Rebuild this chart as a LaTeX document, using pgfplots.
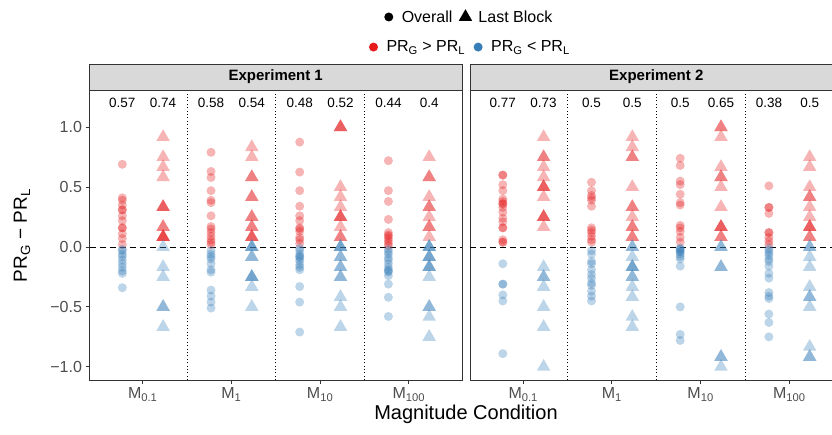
\documentclass[border=0pt]{standalone}
\usepackage{fontspec}
\setmainfont{Liberation Sans}
\usepackage{pgfplots}
\pgfplotsset{compat=1.18}
\usepackage{pgfplotstable}
\definecolor{setred}{HTML}{E41A1C}
\definecolor{setblue}{HTML}{377EB8}
\definecolor{stripbg}{HTML}{D9D9D9}
\definecolor{frame}{HTML}{333333}
\definecolor{ticktxt}{HTML}{4D4D4D}
\newcommand\fs[1]{\fontsize{#1}{#1}\selectfont}

% c = magnitude condition (1..4), v = PR_G - PR_L
% Experiment 1
\pgfplotstableread[row sep=\\]{c v\\
1 0.69\\ 1 0.41\\ 1 0.39\\ 1 0.35\\ 1 0.31\\ 1 0.31\\ 1 0.26\\ 1 0.22\\ 1 0.16\\ 1 0.16\\ 1 0.11\\ 1 0.07\\ 1 0.02\\
2 0.79\\ 2 0.63\\ 2 0.58\\ 2 0.47\\ 2 0.39\\ 2 0.37\\ 2 0.26\\ 2 0.17\\ 2 0.15\\ 2 0.12\\ 2 0.09\\ 2 0.06\\ 2 0.04\\ 2 0.02\\
3 0.875\\ 3 0.625\\ 3 0.47\\ 3 0.34\\ 3 0.26\\ 3 0.22\\ 3 0.16\\ 3 0.15\\ 3 0.13\\ 3 0.08\\ 3 0.06\\ 3 0.03\\
4 0.72\\ 4 0.47\\ 4 0.38\\ 4 0.23\\ 4 0.12\\ 4 0.10\\ 4 0.09\\ 4 0.07\\ 4 0.05\\ 4 0.03\\ 4 0.01\\
}\eAoR
\pgfplotstableread[row sep=\\]{c v\\
1 -0.02\\ 1 -0.03\\ 1 -0.06\\ 1 -0.08\\ 1 -0.11\\ 1 -0.14\\ 1 -0.17\\ 1 -0.20\\ 1 -0.22\\ 1 -0.34\\
2 -0.03\\ 2 -0.06\\ 2 -0.08\\ 2 -0.10\\ 2 -0.14\\ 2 -0.19\\ 2 -0.21\\ 2 -0.36\\ 2 -0.41\\ 2 -0.46\\ 2 -0.51\\
3 -0.01\\ 3 -0.03\\ 3 -0.06\\ 3 -0.08\\ 3 -0.08\\ 3 -0.10\\ 3 -0.12\\ 3 -0.15\\ 3 -0.17\\ 3 -0.19\\ 3 -0.33\\ 3 -0.46\\ 3 -0.71\\
4 -0.02\\ 4 -0.04\\ 4 -0.06\\ 4 -0.09\\ 4 -0.11\\ 4 -0.14\\ 4 -0.17\\ 4 -0.19\\ 4 -0.20\\ 4 -0.21\\ 4 -0.24\\ 4 -0.31\\ 4 -0.42\\ 4 -0.58\\
}\eAoB
\pgfplotstableread[row sep=\\]{c v\\
1 0.917\\ 1 0.75\\ 1 0.667\\ 1 0.583\\ 1 0.333\\ 1 0.333\\ 1 0.333\\ 1 0.167\\ 1 0.167\\ 1 0.083\\ 1 0.083\\ 1 0.083\\ 1 0.083\\
2 0.833\\ 2 0.75\\ 2 0.583\\ 2 0.583\\ 2 0.417\\ 2 0.417\\ 2 0.25\\ 2 0.25\\ 2 0.167\\ 2 0.167\\ 2 0.083\\ 2 0.083\\ 2 0.083\\
3 1\\ 3 1\\ 3 1\\ 3 0.5\\ 3 0.417\\ 3 0.333\\ 3 0.25\\ 3 0.25\\ 3 0.25\\ 3 0.167\\ 3 0.083\\ 3 0.083\\
4 0.75\\ 4 0.583\\ 4 0.583\\ 4 0.417\\ 4 0.333\\ 4 0.333\\ 4 0.25\\ 4 0.167\\ 4 0.167\\ 4 0.083\\
}\eAlR
\pgfplotstableread[row sep=\\]{c v\\
1 0\\ 1 -0.167\\ 1 -0.25\\ 1 -0.5\\ 1 -0.5\\ 1 -0.667\\
2 0\\ 2 0\\ 2 0\\ 2 -0.083\\ 2 -0.083\\ 2 -0.25\\ 2 -0.25\\ 2 -0.25\\ 2 -0.333\\ 2 -0.5\\
3 0\\ 3 0\\ 3 0\\ 3 -0.083\\ 3 -0.083\\ 3 -0.167\\ 3 -0.167\\ 3 -0.25\\ 3 -0.25\\ 3 -0.417\\ 3 -0.5\\ 3 -0.667\\
4 0\\ 4 0\\ 4 0\\ 4 -0.083\\ 4 -0.083\\ 4 -0.083\\ 4 -0.167\\ 4 -0.167\\ 4 -0.167\\ 4 -0.25\\ 4 -0.5\\ 4 -0.5\\ 4 -0.583\\ 4 -0.75\\
}\eAlB
% Experiment 2
\pgfplotstableread[row sep=\\]{c v\\
1 0.60\\ 1 0.60\\ 1 0.52\\ 1 0.47\\ 1 0.40\\ 1 0.38\\ 1 0.36\\ 1 0.36\\ 1 0.33\\ 1 0.29\\ 1 0.24\\ 1 0.21\\ 1 0.16\\ 1 0.16\\ 1 0.06\\ 1 0.04\\ 1 0.04\\
2 0.54\\ 2 0.47\\ 2 0.43\\ 2 0.41\\ 2 0.39\\ 2 0.34\\ 2 0.16\\ 2 0.14\\ 2 0.12\\ 2 0.09\\ 2 0.06\\ 2 0.04\\
3 0.74\\ 3 0.68\\ 3 0.55\\ 3 0.52\\ 3 0.44\\ 3 0.37\\ 3 0.35\\ 3 0.18\\ 3 0.16\\ 3 0.13\\ 3 0.08\\ 3 0.04\\
4 0.51\\ 4 0.33\\ 4 0.33\\ 4 0.28\\ 4 0.12\\ 4 0.12\\ 4 0.08\\ 4 0.05\\ 4 0.02\\
}\eBoR
\pgfplotstableread[row sep=\\]{c v\\
1 -0.14\\ 1 -0.31\\ 1 -0.31\\ 1 -0.40\\ 1 -0.45\\ 1 -0.89\\
2 -0.03\\ 2 -0.06\\ 2 -0.12\\ 2 -0.14\\ 2 -0.19\\ 2 -0.23\\ 2 -0.26\\ 2 -0.30\\ 2 -0.32\\ 2 -0.37\\ 2 -0.41\\ 2 -0.45\\
3 -0.01\\ 3 -0.02\\ 3 -0.02\\ 3 -0.04\\ 3 -0.04\\ 3 -0.06\\ 3 -0.08\\ 3 -0.10\\ 3 -0.16\\ 3 -0.50\\ 3 -0.73\\ 3 -0.78\\
4 -0.01\\ 4 -0.03\\ 4 -0.05\\ 4 -0.07\\ 4 -0.10\\ 4 -0.12\\ 4 -0.16\\ 4 -0.22\\ 4 -0.26\\ 4 -0.38\\ 4 -0.41\\ 4 -0.43\\ 4 -0.56\\ 4 -0.63\\ 4 -0.75\\
}\eBoB
\pgfplotstableread[row sep=\\]{c v\\
1 0.917\\ 1 0.75\\ 1 0.75\\ 1 0.667\\ 1 0.583\\ 1 0.5\\ 1 0.5\\ 1 0.5\\ 1 0.417\\ 1 0.25\\ 1 0.25\\ 1 0.25\\ 1 0.167\\
2 0.917\\ 2 0.833\\ 2 0.75\\ 2 0.75\\ 2 0.5\\ 2 0.333\\ 2 0.333\\ 2 0.25\\ 2 0.167\\ 2 0.167\\ 2 0.083\\ 2 0.083\\
3 1\\ 3 1\\ 3 0.917\\ 3 0.667\\ 3 0.583\\ 3 0.583\\ 3 0.5\\ 3 0.333\\ 3 0.167\\ 3 0.167\\ 3 0.167\\ 3 0.083\\ 3 0.083\\
4 0.75\\ 4 0.667\\ 4 0.5\\ 4 0.417\\ 4 0.417\\ 4 0.333\\ 4 0.25\\ 4 0.167\\ 4 0.167\\ 4 0.167\\ 4 0.083\\ 4 0.083\\
}\eBlR
\pgfplotstableread[row sep=\\]{c v\\
1 -0.167\\ 1 -0.25\\ 1 -0.25\\ 1 -0.333\\ 1 -0.5\\ 1 -0.667\\ 1 -1\\
2 0\\ 2 0\\ 2 -0.083\\ 2 -0.167\\ 2 -0.167\\ 2 -0.167\\ 2 -0.25\\ 2 -0.25\\ 2 -0.333\\ 2 -0.417\\ 2 -0.583\\ 2 -0.667\\
3 0\\ 3 0\\ 3 -0.167\\ 3 -0.167\\ 3 -0.917\\ 3 -0.917\\ 3 -1\\
4 0\\ 4 0\\ 4 -0.083\\ 4 -0.167\\ 4 -0.333\\ 4 -0.417\\ 4 -0.417\\ 4 -0.5\\ 4 -0.833\\ 4 -0.917\\ 4 -0.917\\
}\eBlB

\pgfplotsset{
  facet/.style={
    scale only axis, width=372.5pt, height=290pt, anchor=south west,
    xmin=0.4, xmax=4.6, ymin=-1.11, ymax=1.31, clip=false,
    axis line style={frame, line width=0.9pt},
    tick style={frame, line width=0.9pt}, major tick length=4pt, tick align=outside,
    xtick pos=left, ytick pos=left,
    xtick={1,2,3,4},
    xticklabels={M\textsubscript{0.1},M\textsubscript{1},M\textsubscript{10},M\textsubscript{100}},
    tick label style={font=\fs{16}, text=ticktxt},
    extra x ticks={1.5,2.5,3.5}, extra x tick labels={},
    extra x tick style={grid=major, major tick length=0pt},
    major grid style={black, line width=0.8pt, dash pattern=on 0.8pt off 2.6pt},
    legend columns=-1,
    legend image code/.code={%
      \path[draw=none, fill=none] (0pt,-5pt) rectangle (20pt,5pt);
      \draw[##1, draw opacity=0] plot coordinates {(9pt,0pt)};},
    legend style={draw=none, fill=none, font=\fs{16}, anchor=center,
      /tikz/every even column/.append style={column sep=2pt}},
  },
  ov/.style={only marks, mark=*, mark size=4.5pt, forget plot,
    mark options={fill=#1, fill opacity=0.33, draw opacity=0}},
  lb/.style={only marks, mark=triangle*, mark size=7.8pt, forget plot,
    mark options={fill=#1, fill opacity=0.33, draw opacity=0}},
}

\begin{document}
\begin{tikzpicture}
% Experiment 1
\begin{axis}[facet, at={(89.5pt,55pt)},
  ytick={-1,-0.5,0,0.5,1}, yticklabels={−1.0,−0.5,0.0,0.5,1.0},
  legend style={at={(1.0135,1.2517)}}]
\addlegendimage{only marks, mark=*, mark size=4.5pt, black}
\addlegendentry{Overall}
\addlegendimage{only marks, mark=triangle*, mark size=7.8pt, black}
\addlegendentry{Last Block}
\addplot[ov=setred] table[x expr=\thisrow{c}-0.23, y=v] {\eAoR};
\addplot[ov=setblue] table[x expr=\thisrow{c}-0.23, y=v] {\eAoB};
\addplot[lb=setred] table[x expr=\thisrow{c}+0.23, y=v] {\eAlR};
\addplot[lb=setblue] table[x expr=\thisrow{c}+0.23, y=v] {\eAlB};
\draw[black, line width=0.8pt, dash pattern=on 6pt off 4pt] (axis cs:0.4,0) -- (axis cs:4.6,0);
\begin{scope}[font=\fs{13.5}]
\node at (axis cs:0.77,1.2) {0.57}; \node at (axis cs:1.23,1.2) {0.74};
\node at (axis cs:1.77,1.2) {0.58}; \node at (axis cs:2.23,1.2) {0.54};
\node at (axis cs:2.77,1.2) {0.48}; \node at (axis cs:3.23,1.2) {0.52};
\node at (axis cs:3.77,1.2) {0.44}; \node at (axis cs:4.23,1.2) {0.4};
\end{scope}
\draw[frame, line width=0.9pt, fill=stripbg] (rel axis cs:0,1) rectangle ([yshift=26pt]rel axis cs:1,1);
\node[font=\fs{15}\bfseries] at ([yshift=13pt]rel axis cs:0.5,1) {Experiment 1};
\end{axis}
% Experiment 2
\begin{axis}[facet, at={(470pt,55pt)}, ytick=\empty,
  legend style={at={(-0.005,1.148)}}]
\addlegendimage{only marks, mark=*, mark size=4.5pt, setred}
\addlegendentry{PR\textsubscript{G} > PR\textsubscript{L}}
\addlegendimage{only marks, mark=*, mark size=4.5pt, setblue}
\addlegendentry{PR\textsubscript{G} < PR\textsubscript{L}}
\addplot[ov=setred] table[x expr=\thisrow{c}-0.23, y=v] {\eBoR};
\addplot[ov=setblue] table[x expr=\thisrow{c}-0.23, y=v] {\eBoB};
\addplot[lb=setred] table[x expr=\thisrow{c}+0.23, y=v] {\eBlR};
\addplot[lb=setblue] table[x expr=\thisrow{c}+0.23, y=v] {\eBlB};
\draw[black, line width=0.8pt, dash pattern=on 6pt off 4pt] (axis cs:0.4,0) -- (axis cs:4.6,0);
\begin{scope}[font=\fs{13.5}]
\node at (axis cs:0.77,1.2) {0.77}; \node at (axis cs:1.23,1.2) {0.73};
\node at (axis cs:1.77,1.2) {0.5};  \node at (axis cs:2.23,1.2) {0.5};
\node at (axis cs:2.77,1.2) {0.5};  \node at (axis cs:3.23,1.2) {0.65};
\node at (axis cs:3.77,1.2) {0.38}; \node at (axis cs:4.23,1.2) {0.5};
\end{scope}
\draw[frame, line width=0.9pt, fill=stripbg] (rel axis cs:0,1) rectangle ([yshift=26pt]rel axis cs:1,1);
\node[font=\fs{15}\bfseries] at ([yshift=13pt]rel axis cs:0.5,1) {Experiment 2};
\end{axis}
\node[font=\fs{20}, anchor=base] at (466pt,15pt) {Magnitude Condition};
\node[font=\fs{19}, rotate=90] at (22pt,199.5pt) {PR\textsubscript{G} − PR\textsubscript{L}};
\pgfresetboundingbox
\useasboundingbox (0pt,0pt) rectangle (832pt,435pt);
\end{tikzpicture}
\end{document}
